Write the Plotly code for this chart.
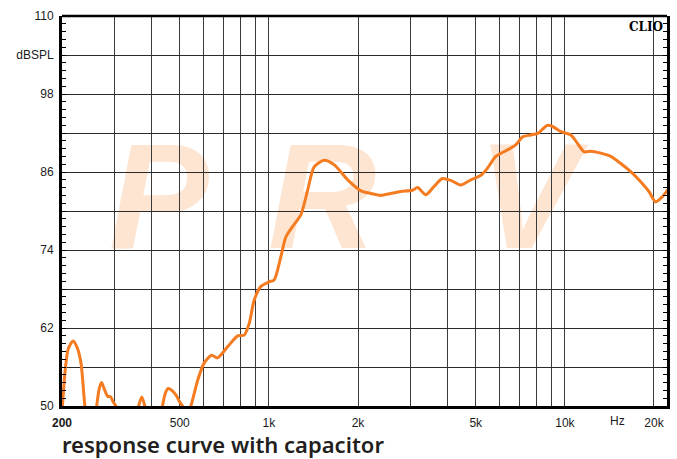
import numpy as np
import plotly.graph_objects as go

# Frequency response (Hz, dB SPL)
freq = [200, 205, 210, 218, 225, 232, 239, 248, 256, 262, 267, 272, 278, 285, 292, 298, 304,
        320, 345, 363, 372, 381, 400, 420, 437, 447, 457, 470, 485, 500, 511, 528, 545,
        575, 604, 640, 670, 725, 784, 825, 858, 892, 940, 1000, 1042, 1098, 1141, 1202,
        1282, 1352, 1422, 1538, 1663, 1846, 2047, 2210, 2390, 2582, 2790, 3054, 3180,
        3391, 3618, 3856, 4118, 4451, 4814, 5203, 5479, 5843, 6398, 6835, 7197, 7680,
        8090, 8743, 9086, 9697, 10477, 11030, 11610, 12235, 13222, 14288, 15442, 16687,
        18034, 19228, 20256, 21338, 22300]
spl = [49.0, 55.5, 58.8, 60.0, 59.0, 56.5, 50.0, 45.0, 46.0, 50.0, 52.6, 53.6, 52.6, 51.5, 51.4, 50.6, 50.0,
       45.5, 46.0, 50.0, 51.4, 50.0, 46.0, 46.0, 50.0, 52.0, 52.7, 52.4, 51.7, 50.6, 50.0, 48.6, 50.0,
       54.0, 56.6, 57.8, 57.4, 59.1, 60.8, 60.9, 62.7, 66.3, 68.4, 69.1, 69.4, 73.0, 76.0, 77.6,
       79.4, 83.2, 86.8, 87.8, 87.1, 84.8, 83.1, 82.7, 82.4, 82.7, 83.0, 83.2, 83.6,
       82.5, 83.8, 85.0, 84.7, 84.0, 84.8, 85.5, 86.6, 88.4, 89.4, 90.2, 91.4, 91.7,
       91.95, 93.2, 93.0, 92.2, 91.7, 90.4, 89.1, 89.2, 88.9, 88.4, 87.3, 86.05,
       84.5, 83.0, 81.4, 82.2, 83.3]

x_grid = [200, 300, 400, 500, 600, 700, 800, 900, 1000, 2000, 3000, 4000, 5000,
          6000, 7000, 8000, 9000, 10000, 20000]
x_labels = {200: "<b>200</b>", 500: "500", 1000: "1k", 2000: "2k", 5000: "5k",
            10000: "10k", 20000: "20k"}
y_grid = [50, 56, 62, 68, 74, 80, 86, 92, 98, 104, 110]
y_text = ["50", "", "62", "", "74", "", "86", "", "98", "dBSPL", "110"]
title_text = "response curve with capacitor"

fig = go.Figure()
fig.add_trace(go.Scatter(x=freq, y=spl, mode="lines",
                         line=dict(color="#f47b20", width=3, shape="spline", smoothing=0.7),
                         hoverinfo="skip", showlegend=False))

font_tick = dict(family="Liberation Sans, Arial, sans-serif", size=12, color="#1a1a1a")

fig.update_xaxes(type="log", range=[np.log10(200), np.log10(22130)],
                 tickvals=x_grid, ticktext=[x_labels.get(v, "") for v in x_grid],
                 showgrid=True, gridcolor="#3a3a3a", gridwidth=1,
                 showline=True, linecolor="black", linewidth=3,
                 ticks="", tickfont=font_tick, zeroline=False, ticklabelstandoff=4,
                 automargin=False)
fig.update_yaxes(range=[50, 110], tickvals=y_grid, ticktext=y_text,
                 showgrid=True, gridcolor="#2a2a2a", gridwidth=1,
                 showline=True, linecolor="black", linewidth=3, mirror="ticks",
                 ticks="inside", ticklen=4, tickcolor="black", tickwidth=1,
                 minor=dict(dtick=1.2, tick0=50, ticks="inside", ticklen=4,
                            tickcolor="black", tickwidth=1, showgrid=False),
                 tickfont=font_tick, zeroline=False, ticklabelstandoff=3,
                 automargin=False)

# top border
fig.add_shape(type="line", xref="paper", yref="paper", x0=0, x1=1, y0=1, y1=1,
              line=dict(color="black", width=2.5), layer="above")

# Watermark logo letters (beneath grid)
for cx, letter in [(0.16, "P"), (0.43, "R"), (0.77, "V")]:
    fig.add_shape(type="rect", xref="paper", yref="paper",
                  x0=cx - 0.15, x1=cx + 0.15, y0=0.44, y1=0.71,
                  line=dict(width=0), fillcolor="rgba(0,0,0,0)", layer="below",
                  label=dict(text=letter, textposition="middle center",
                             font=dict(family="Liberation Sans, Arial", size=150,
                                       color="#fde5d2", weight="bold", style="italic")))

fig.add_annotation(text="CLIO", xref="paper", yref="paper", x=0.997, y=0.995,
                   xanchor="right", yanchor="top", showarrow=False,
                   font=dict(family="DejaVu Serif", size=12, color="black", weight="bold"))
fig.add_annotation(text="Hz", xref="x", yref="paper", x=np.log10(15000), y=0,
                   yanchor="top", yshift=-6, showarrow=False, font=font_tick)
fig.add_annotation(text=title_text, xref="paper", yref="paper", x=-0.003, y=0,
                   xanchor="left", yanchor="top", yshift=-21, showarrow=False,
                   font=dict(family="Noto Sans", size=22, color="#231f20", weight=600))

fig.update_layout(width=677, height=459, margin=dict(l=62, r=10, t=16, b=53),
                  paper_bgcolor="white", plot_bgcolor="rgba(0,0,0,0)")

fig.write_html("out.html", config={"displayModeBar": False},
               post_script="document.body.style.margin='0';document.body.style.overflow='hidden';")
